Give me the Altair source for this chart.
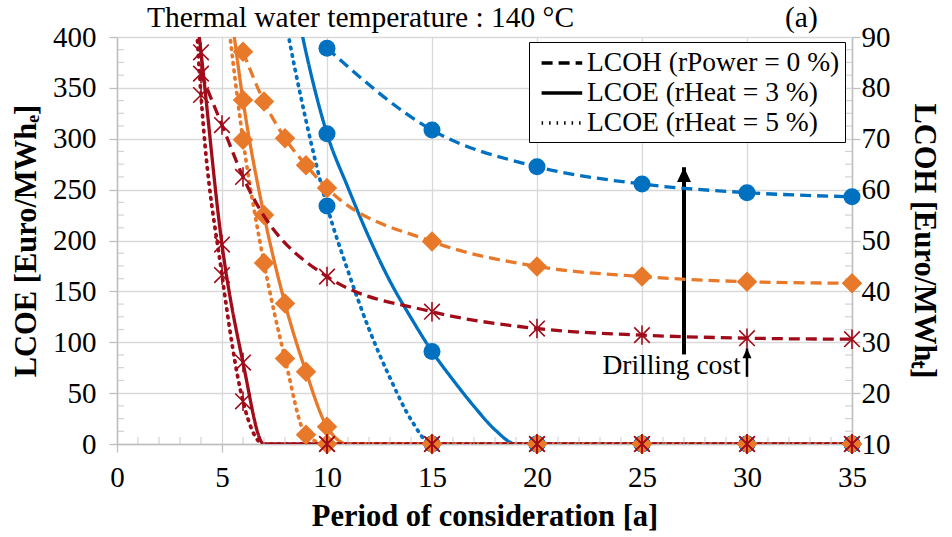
import altair as alt
import pandas as pd

FONT = "Liberation Serif"

# ---------------- data ----------------
# LCOE (left axis, Euro/MWh_e)  -- rHeat = 3 % (solid) and rHeat = 5 % (dotted)
red_lcoe3_x = [3, 4, 5, 6, 7, 10, 15, 20, 25, 30, 35]
red_lcoe3_y = [560, 385, 196, 80, 0, 0, 0, 0, 0, 0, 0]
red_lcoe5_x = [3, 4, 5, 6, 7, 10, 15, 20, 25, 30, 35]
red_lcoe5_y = [750, 343, 166, 42, 0, 0, 0, 0, 0, 0, 0]

orange_lcoe3_x = [5, 6, 7, 8, 9, 10, 11, 15, 20, 25, 30, 35]
orange_lcoe3_y = [500, 338, 225, 138, 71, 17, 0, 0, 0, 0, 0, 0]
orange_lcoe5_x = [5, 6, 7, 8, 9, 10, 15, 20, 25, 30, 35]
orange_lcoe5_y = [470, 299, 178, 84, 9, 0, 0, 0, 0, 0, 0]

blue_lcoe3_x = [8, 9, 10, 11, 12, 13, 14, 15, 16, 17, 18, 19, 20, 25, 30, 35]
blue_lcoe3_y = [490, 385, 305, 252, 203, 160, 124, 91, 63, 37, 14, 0, 0, 0, 0, 0]
blue_lcoe5_x = [7, 8, 9, 10, 11, 12, 13, 14, 15, 20, 25, 30, 35]
blue_lcoe5_y = [550, 420, 318, 234, 170, 113, 65, 24, 0, 0, 0, 0, 0]

# LCOH (right axis, Euro/MWh_t) -- rPower = 0 % (dashed)
red_lcoh_x = [4, 5, 6, 10, 15, 20, 25, 30, 35]
red_lcoh_y = [82.8, 72.7, 62.5, 42.9, 36.0, 32.7, 31.4, 30.8, 30.6]
orange_lcoh_x = [6, 7, 8, 9, 10, 15, 20, 25, 30, 35]
orange_lcoh_y = [87.1, 77.3, 70.1, 64.8, 60.3, 49.8, 44.9, 42.9, 41.9, 41.6]
blue_lcoh_x = [10, 15, 20, 25, 30, 35]
blue_lcoh_y = [87.8, 71.7, 64.5, 61.1, 59.4, 58.6]

# years that carry a marker
red_marker_x = [4, 5, 6, 10, 15, 20, 25, 30, 35]
orange_marker_x = [6, 7, 8, 9, 10, 15, 20, 25, 30, 35]
blue_marker_x = [10, 15, 20, 25, 30, 35]

series_names = ["red", "orange", "blue"]
series_colors = ["#A00C1A", "#E8792A", "#0070C0"]
kind_names = ["LCOH (rPower = 0 %)", "LCOE (rHeat = 3 %)", "LCOE (rHeat = 5 %)"]

x_ticks = [0, 5, 10, 15, 20, 25, 30, 35]
lcoe_ticks = [0, 50, 100, 150, 200, 250, 300, 350, 400]
lcoh_ticks = [10, 20, 30, 40, 50, 60, 70, 80, 90]
x_minor = [v for v in range(0, 36) if v % 5 != 0]
y_minor = [v * 12.5 for v in range(1, 32) if v % 4 != 0]

# annotations
arrow_x = [27, 30]
arrow_from = [88, 66]
arrow_tip = [272, 94]
note_text = ["Drilling cost"]
note_x = [29.7]
note_y = [69]
title_text = "Thermal water temperature : 140 \u00b0C"
panel_text = "(a)"

# ---------------- tables ----------------
markers = {"red": red_marker_x, "orange": orange_marker_x, "blue": blue_marker_x}


def rows(color, kind, xs, ys):
    return [
        {"x": x, "y": y, "color": color, "kind": kind, "marker": x in markers[color]}
        for x, y in zip(xs, ys)
    ]


lcoe_df = pd.DataFrame(
    rows("blue", kind_names[1], blue_lcoe3_x, blue_lcoe3_y)
    + rows("blue", kind_names[2], blue_lcoe5_x, blue_lcoe5_y)
    + rows("orange", kind_names[1], orange_lcoe3_x, orange_lcoe3_y)
    + rows("orange", kind_names[2], orange_lcoe5_x, orange_lcoe5_y)
    + rows("red", kind_names[1], red_lcoe3_x, red_lcoe3_y)
    + rows("red", kind_names[2], red_lcoe5_x, red_lcoe5_y)
)
lcoh_df = pd.DataFrame(
    rows("blue", kind_names[0], blue_lcoh_x, blue_lcoh_y)
    + rows("orange", kind_names[0], orange_lcoh_x, orange_lcoh_y)
    + rows("red", kind_names[0], red_lcoh_x, red_lcoh_y)
)

x_enc = alt.X(
    "x:Q",
    scale=alt.Scale(domain=[0, 35], nice=False, zero=False),
    axis=alt.Axis(
        values=x_ticks,
        title="Period of consideration [a]",
        grid=True,
        labelFlush=False,
        labelOverlap=False,
        labelPadding=11,
        titlePadding=9,
    ),
)
x_plain = alt.X("x:Q", scale=alt.Scale(domain=[0, 35], nice=False, zero=False))

lcoe_scale = alt.Scale(domain=[0, 400], nice=False, zero=False)
lcoh_scale = alt.Scale(domain=[10, 90], nice=False, zero=False)

color_enc = alt.Color(
    "color:N", scale=alt.Scale(domain=series_names, range=series_colors), legend=None
)
dash_enc = alt.StrokeDash(
    "kind:N",
    scale=alt.Scale(domain=kind_names, range=[[11, 6], [1, 0], [1.5, 6]]),
    legend=alt.Legend(
        title=None,
        orient="none",
        legendX=412,
        legendY=5,
        symbolType="M-0.6,0L2.3,0",
        symbolStrokeColor="black",
        symbolFillColor="transparent",
        symbolStrokeWidth=3.5,
        symbolSize=784,
        labelFont=FONT,
        labelFontSize=27.5,
        labelColor="black",
        labelLimit=500,
        strokeColor="black",
        fillColor="white",
        padding=5,
        rowPadding=0,
        labelOffset=21,
    ),
)

asterisk = "M-0.8,-0.8L0.8,0.8M-0.8,0.8L0.8,-0.8M0,-1L0,1"


def marker_layers(df, y_enc):
    base = alt.Chart(df).transform_filter("datum.marker")
    blue = base.transform_filter("datum.color == 'blue'").mark_point(
        shape="circle", filled=True, size=290, opacity=1, color=series_colors[2]
    ).encode(x=x_plain, y=y_enc)
    orange = base.transform_filter("datum.color == 'orange'").mark_point(
        shape="diamond", filled=True, size=420, opacity=1, color=series_colors[1]
    ).encode(x=x_plain, y=y_enc)
    red = base.transform_filter("datum.color == 'red'").mark_point(
        shape=asterisk, filled=False, size=380, opacity=1, strokeWidth=1.6,
        color=series_colors[0]
    ).encode(x=x_plain, y=y_enc)
    return [blue, orange, red]


# ---------------- left (LCOE) ----------------
lcoe_y_axis = alt.Y(
    "y:Q",
    scale=lcoe_scale,
    axis=alt.Axis(
        values=lcoe_ticks,
        title="LCOE [Euro/MWh\u2091]",
        grid=True,
        orient="left",
        labelPadding=13,
        titlePadding=11,
    ),
)
lcoe_y = alt.Y("y:Q", scale=lcoe_scale)

lcoe_solid = alt.Chart(lcoe_df).transform_filter(
    alt.datum.kind == kind_names[1]
).mark_line(strokeWidth=3.3, interpolate="monotone", clip=True).encode(
    x=x_enc, y=lcoe_y_axis, color=color_enc, strokeDash=dash_enc
)
lcoe_dotted = alt.Chart(lcoe_df).transform_filter(
    alt.datum.kind == kind_names[2]
).mark_line(strokeWidth=3.7, interpolate="monotone", clip=True, strokeCap="round").encode(
    x=x_plain, y=lcoe_y, color=color_enc, strokeDash=dash_enc
)

minor_x_df = pd.DataFrame({"x": x_minor, "y": [0] * len(x_minor)})
minor_x = alt.Chart(minor_x_df).mark_tick(
    orient="vertical", size=7, thickness=1.2, color="#bfbfbf", yOffset=-3.5
).encode(x=x_plain, y=lcoe_y)
minor_y_df = pd.DataFrame({"y": y_minor, "x0": [0] * len(y_minor), "x1": [35] * len(y_minor)})
minor_yl = alt.Chart(minor_y_df).mark_tick(
    orient="horizontal", size=7, thickness=1.2, color="#bfbfbf", xOffset=3.5
).encode(x=alt.X("x0:Q", scale=alt.Scale(domain=[0, 35], nice=False)), y=lcoe_y)
minor_yr = alt.Chart(minor_y_df).mark_tick(
    orient="horizontal", size=7, thickness=1.2, color="#bfbfbf", xOffset=-3.5
).encode(x=alt.X("x1:Q", scale=alt.Scale(domain=[0, 35], nice=False)), y=lcoe_y)

arrow_df = pd.DataFrame({"x": arrow_x, "y0": arrow_from, "tip": arrow_tip})
big_shaft = alt.Chart(arrow_df.iloc[[0]]).mark_rule(strokeWidth=4, color="black").encode(
    x=x_plain, y=alt.Y("y0:Q", scale=lcoe_scale), y2=alt.Y2("tip:Q")
)
small_shaft = alt.Chart(arrow_df.iloc[[1]]).mark_rule(strokeWidth=2.5, color="black").encode(
    x=x_plain, y=alt.Y("y0:Q", scale=lcoe_scale), y2=alt.Y2("tip:Q")
)
big_head = alt.Chart(arrow_df.iloc[[0]]).mark_point(
    shape="M0,0L-1,2.1L1,2.1Z", filled=True, size=196, opacity=1, color="black"
).encode(x=x_plain, y=alt.Y("tip:Q", scale=lcoe_scale))
small_head = alt.Chart(arrow_df.iloc[[1]]).mark_point(
    shape="M0,0L-1,2.2L1,2.2Z", filled=True, size=81, opacity=1, color="black"
).encode(x=x_plain, y=alt.Y("tip:Q", scale=lcoe_scale))

note = alt.Chart(pd.DataFrame({"t": note_text, "x": note_x, "y": note_y})).mark_text(
    font=FONT, fontSize=27.5, align="right", baseline="alphabetic", color="black"
).encode(x=x_plain, y=alt.Y("y:Q", scale=lcoe_scale), text="t:N")

left = alt.layer(
    lcoe_solid,
    lcoe_dotted,
    minor_x,
    minor_yl,
    minor_yr,
    big_shaft,
    big_head,
    small_shaft,
    small_head,
    note,
    *marker_layers(lcoe_df, lcoe_y),
)

# ---------------- right (LCOH) ----------------
lcoh_y_axis = alt.Y(
    "y:Q",
    scale=lcoh_scale,
    axis=alt.Axis(
        values=lcoh_ticks,
        title="LCOH [Euro/MWh\u209c]",
        grid=False,
        orient="right",
        labelPadding=1,
        titlePadding=18,
    ),
)
lcoh_y = alt.Y("y:Q", scale=lcoh_scale)
lcoh_lines = alt.Chart(lcoh_df).mark_line(
    strokeWidth=3.3, interpolate="monotone", clip=True
).encode(x=x_plain, y=lcoh_y_axis, color=color_enc, strokeDash=dash_enc)

right = alt.layer(lcoh_lines, *marker_layers(lcoh_df, lcoh_y))

# ---------------- header texts ----------------
head_df = pd.DataFrame({"t": [title_text]})
title_mark = alt.Chart(head_df).mark_text(
    font=FONT, fontSize=29.5, align="left", baseline="alphabetic", color="black"
).encode(text="t:N", x=alt.value(30), y=alt.value(-10))
panel_mark = alt.Chart(pd.DataFrame({"t": [panel_text]})).mark_text(
    font=FONT, fontSize=29.5, align="left", baseline="alphabetic", color="black"
).encode(text="t:N", x=alt.value(668), y=alt.value(-10))

chart = (
    alt.layer(left, right, title_mark, panel_mark)
    .resolve_scale(y="independent")
    .properties(
        width=735,
        height=407,
        autosize=alt.AutoSizeParams(type="none"),
        padding={"left": 117, "top": 37, "right": 100, "bottom": 93},
        background="white",
    )
    .configure_view(stroke=None)
    .configure_axis(
        labelFont=FONT,
        labelFontSize=29,
        labelColor="black",
        titleFont=FONT,
        titleFontSize=30.5,
        titleFontWeight="bold",
        titleColor="black",
        gridColor="#d9d9d9",
        gridWidth=1.3,
        domainColor="#bfbfbf",
        domainWidth=1.5,
        tickColor="#bfbfbf",
        tickWidth=1.3,
        tickSize=8,
    )
)

chart.save("out.html", embed_options={"renderer": "svg", "actions": False})
